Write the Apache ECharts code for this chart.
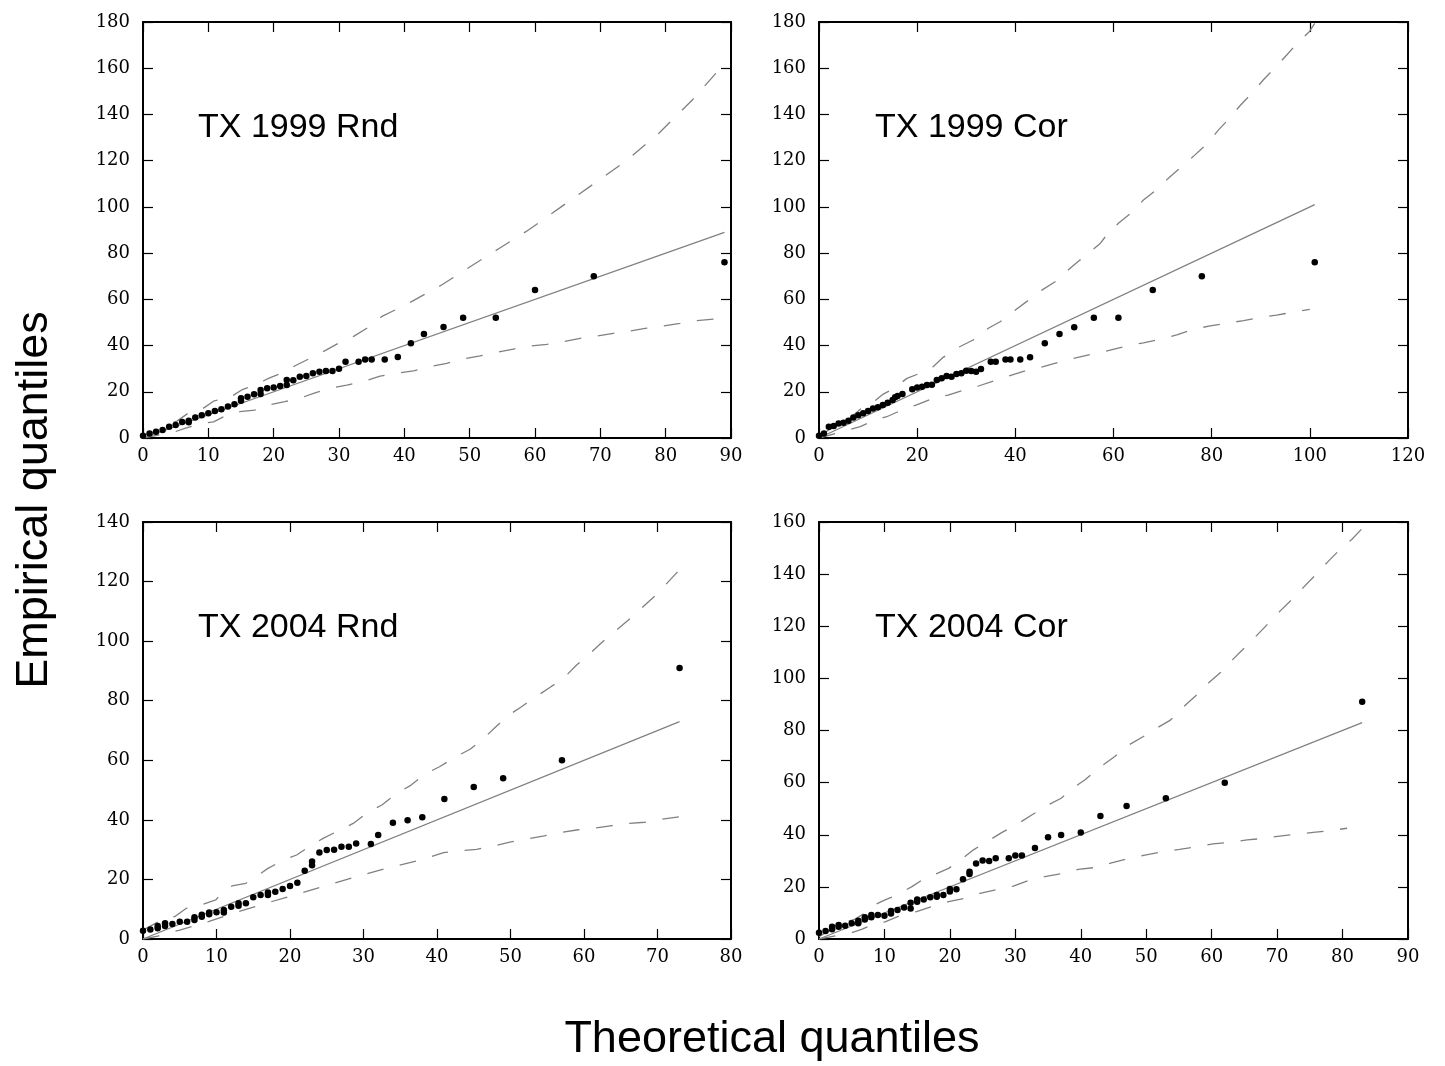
<!DOCTYPE html>
<html>
<head>
<meta charset="utf-8">
<script src="https://cdn.jsdelivr.net/npm/echarts@6/dist/echarts.min.js"></script>
<style>
html,body{margin:0;padding:0;background:#fff;}
#chart{width:1445px;height:1066px;}
</style>
</head>
<body>
<div id="chart"></div>
<script>
// ---- Panel titles & axis titles ----
const panelTitles = ["TX 1999 Rnd", "TX 1999 Cor", "TX 2004 Rnd", "TX 2004 Cor"];
const xTitle = "Theoretical quantiles";
const yTitle = "Empirical quantiles";

// ---- Axis ranges ----
const xMax = [90, 120, 80, 90];
const xStep = [10, 20, 10, 10];
const yMax = [180, 180, 140, 160];
const yStep = [20, 20, 20, 20];

// ---- Panel 1: TX 1999 Rnd ----
const theo1 = [0,1,2,3,4,5,6,7,7,8,9,10,11,12,13,14,15,15,16,17,18,18,19,20,21,22,22,23,24,25,26,27,28,29,30,31,33,34,35,37,39,41,43,46,49,54,60,69,89];
const emp1  = [1,2,2.7,3.5,4.9,5.6,6.9,6.8,7.5,8.9,9.8,10.7,11.7,12.4,13.6,14.6,16.1,17.2,17.9,18.9,19,20.8,21.5,21.9,22.5,22.9,25.1,25,26.5,26.8,28,28.7,29,29,30,33,33,34,34,34,35,41,45,48,52,52,64,70,76];
const ref1 = [[0,0],[89,89]];
const upper1 = [[0,1],[2,3],[3.7,5.9],[5.2,7.3],[7.1,11.1],[9,12.4],[10.9,16.1],[13.1,17.2],[15.1,20.8],[17.1,22.9],[19.2,25.8],[21.2,28],[23.5,31.6],[25.6,34.5],[28,38],[29.9,41],[32.3,44.1],[34.5,47.9],[36.5,52.5],[38.8,55.7],[41.1,59],[43.4,62.6],[45.7,66.2],[50,74],[54.5,82],[59,90],[64,100],[69,110],[74,120],[79,132],[84,146],[89,162]];
const lower1 = [[0,0],[4.9,2.7],[6.4,4.2],[9.2,6.3],[10.8,7],[12.9,10],[14.8,11.4],[17.1,12.1],[19.2,14.3],[21.7,15.7],[24,17.2],[26.1,19.3],[28.6,21.5],[31.2,22.9],[33.7,24.4],[36.3,26.8],[38.8,28],[41.4,29],[43.9,30.9],[46.5,32.3],[49,34.2],[51.6,35.5],[54.1,37.1],[56.7,38.5],[59.2,39.8],[61.8,40.5],[64.3,41.7],[66.9,43.1],[69.4,44.1],[72,45.3],[74.5,46.3],[77.1,47.5],[79.6,48.5],[82.2,49.6],[84.7,50.8],[89,51.8]];

// ---- Panel 2: TX 1999 Cor ----
const theo2 = [0,1,2,3,4,5,6,7,8,9,10,11,12,13,14,15,15.5,16,17,19,20,21,22,23,24,25,26,27,28,29,30,31,32,33,35,36,38,39,41,43,46,49,52,56,61,68,78,101];
const emp2  = [1,2,4.9,5.2,6.3,6.6,7.5,8.9,9.8,10.7,11.7,12.8,13.3,14.3,15.3,16.4,17.6,18.2,19,21.1,21.9,22.2,22.9,23,25.1,25.8,26.8,26.5,27.7,28,29.1,29,28.7,29.9,33,33,34,34,34,34.9,41,45,47.9,52,52,64,70,76];
const ref2 = [[0,0],[101,101]];
const upper2 = [[0,1],[4.5,6.5],[6,8],[9,13.5],[10.7,15],[13.1,19],[15.3,21.5],[17.9,25.8],[20.2,27.7],[23.3,30.9],[25.3,34.9],[28.4,39.2],[31.4,42.4],[34.5,47.5],[36.9,50.3],[40,55.4],[42.3,59],[45.4,64],[48.1,67.6],[52,75],[57.3,84.2],[58.6,87.8],[61,92.9],[63.7,97.5],[66.1,103],[68.7,107.3],[71.4,112.8],[73.9,117.4],[76.6,122.5],[79,127.2],[81.4,133.3],[83.6,138.3],[85.9,144.1],[88.2,149.2],[90.5,154.9],[92.9,160.2],[95.3,165.7],[97.5,171],[99.9,175.8],[101,179.4]];
const lower2 = [[0,0],[6,3.5],[8.4,4.9],[11.4,7.8],[13.8,9.2],[17.2,12.4],[19.9,14.3],[23.3,17.2],[26.3,18.6],[29.7,20.8],[32.5,22.5],[36.2,25.1],[38.6,26.8],[42.6,29.4],[45.7,30.9],[50,33.5],[56.2,36.6],[59.3,38],[62.7,39.8],[66.1,41.2],[69.5,42.7],[72.9,44.6],[76.1,47],[79.7,48.5],[82.9,49.6],[86.5,50.8],[89.7,52],[93.2,53.2],[96.6,54.4],[100,55.7]];

// ---- Panel 3: TX 2004 Rnd ----
const theo3 = [0,1,2,2,3,3,4,5,6,7,7,8,8,9,9,10,11,11,12,13,13,14,15,16,17,17,18,19,20,21,22,23,23,24,25,26,27,28,29,31,32,34,36,38,41,45,49,57,73];
const emp3  = [2.8,3.2,3.6,4.4,4.4,5.3,5.0,5.8,5.8,6.4,7.3,7.5,8.1,8.3,8.9,9.0,8.9,9.7,10.8,11.2,12,12,14,14.8,14.8,15.6,15.9,16.8,17.8,18.9,22.9,24.8,26,29,29.9,30,31,31,32.1,31.9,34.9,39,39.9,40.9,47,51,54,60,91];
const ref3 = [[0,0],[73,73]];
const upper3 = [[0,3],[3,7],[4.3,7.5],[5.9,10.3],[7.8,11.4],[9.9,13.1],[10.7,15.3],[12.1,17.8],[14,18.7],[15.7,21.5],[17,23.7],[19.1,26.5],[20.9,28.2],[23,31.6],[24.5,33.8],[26.8,36.6],[28.6,38.8],[30.7,42.7],[32.5,45],[34.5,48.9],[36.3,51.4],[38.4,55.4],[40.4,57.9],[42.4,61],[44.5,63.7],[46.2,67],[47.9,71],[49.6,74.9],[51.5,78],[53.3,81.1],[55.4,84.5],[57.2,87.5],[59,92],[60.6,95.3],[62.3,99.3],[66,107],[70,116],[73,124]];
const lower3 = [[0,0],[2,1],[5,3],[9,5.9],[12.5,8.8],[16.6,11.9],[20.5,14.7],[24.5,17.6],[28.7,20.7],[33.1,23.7],[37.6,26.4],[40.9,29],[43.1,29.6],[45.4,30.1],[47.7,31.2],[49.9,32.5],[52.2,33.6],[54.6,34.6],[56.7,35.7],[59,36.6],[61.3,37.2],[63.6,38],[65.9,38.8],[68.3,39.2],[70.6,40.2],[73,41]];

// ---- Panel 4: TX 2004 Cor ----
const theo4 = [0,1,2,2,3,3,4,5,6,6,7,7,8,8,9,10,11,11,12,13,14,14,15,15,16,17,18,18,19,20,20,21,22,23,23,24,25,26,27,29,30,31,33,35,37,40,43,47,53,62,83];
const emp4  = [2.4,3.1,3.7,4.7,4.7,5.4,5.1,6,6,7,7.5,8.3,8.3,9.2,9.2,8.9,9.8,10.7,11.1,12.1,11.7,13.9,14.3,15.2,15.2,16,16.2,16.9,16.9,18.2,19.2,19.1,22.9,24.9,25.8,29,30.1,29.9,31,31,32,32,34.9,39,39.9,40.9,47.2,51,54,60,91];
const ref4 = [[0,0],[83,83]];
const upper4 = [[0,1],[4.4,6.8],[5.4,7.5],[7,9.9],[8.1,12.7],[10.1,15],[11.9,16.9],[14.2,20.1],[15.7,22.6],[17.8,24.9],[19.8,27.1],[21.8,30.6],[23.6,34.2],[25.9,37.7],[27.9,40.8],[30.5,44.4],[32.5,47.6],[35,51.4],[37,54],[39.1,58.4],[40.6,61],[42.9,65.9],[45.2,70],[47.3,74.4],[49.5,77.6],[51.6,80.9],[53.7,84],[55.7,89.1],[57.7,93.6],[59.5,98.2],[61.4,102.4],[63.2,107.2],[65,111.7],[66.9,116.5],[68.7,121.2],[70.4,125.7],[72.3,130.4],[74.1,135.1],[75.9,139.8],[77.7,144.6],[79.5,149.2],[81.4,153.3],[83,157.5]];
const lower4 = [[0,0],[4.7,2.2],[6.5,3.7],[8.5,5.8],[10.1,6.6],[12.6,9.2],[14.9,10.5],[17.5,12.7],[19.8,14.3],[22.3,15.6],[24.6,17.5],[27.4,19.1],[29.7,20.3],[32.2,22.6],[34.5,23.9],[37.3,25.2],[39.6,26.7],[42.4,27.5],[44.7,29.2],[47.4,31],[49.8,32.2],[52.5,33.5],[55.1,34.4],[57.6,35.4],[60.2,36.5],[62.8,37.1],[65.4,38],[67.9,38.6],[70.4,39.5],[73,40.2],[75.5,40.9],[78.2,41.6],[80.7,42.5]];

const panels = [
  {theo: theo1, emp: emp1, ref: ref1, upper: upper1, lower: lower1},
  {theo: theo2, emp: emp2, ref: ref2, upper: upper2, lower: lower2},
  {theo: theo3, emp: emp3, ref: ref3, upper: upper3, lower: lower3},
  {theo: theo4, emp: emp4, ref: ref4, upper: upper4, lower: lower4}
];

// layout (pixels)
const gridBoxes = [
  {left: 143, top: 22, width: 588, height: 416},
  {left: 819, top: 22, width: 589, height: 416},
  {left: 143, top: 522, width: 588, height: 417},
  {left: 819, top: 522, width: 589, height: 417}
];
const titlePos = [[198,128],[875,128],[198,628],[875,628]];

const GRAY = '#808080';
const labelFont = {fontFamily: 'DejaVu Serif', fontSize: 18, color: '#000'};
const frameLine = {show: true, onZero: false, lineStyle: {color: '#000', width: 2}};
const tickStyle = {show: true, inside: true, length: 10, lineStyle: {color: '#000', width: 1.2}};

const grid = [], xAxis = [], yAxis = [], series = [], graphic = [];

panels.forEach((p, i) => {
  grid.push(Object.assign({containLabel: false}, gridBoxes[i]));
  const xb = xAxis.length;
  xAxis.push({type: 'value', gridIndex: i, position: 'bottom', min: 0, max: xMax[i], interval: xStep[i],
    axisLine: frameLine, axisTick: tickStyle, splitLine: {show: false},
    axisLabel: Object.assign({margin: 9, showMinLabel: true, showMaxLabel: true}, labelFont)});
  xAxis.push({type: 'value', gridIndex: i, position: 'top', min: 0, max: xMax[i], interval: xStep[i],
    axisLine: frameLine, axisTick: tickStyle, splitLine: {show: false}, axisLabel: {show: false}});
  const yb = yAxis.length;
  yAxis.push({type: 'value', gridIndex: i, position: 'left', min: 0, max: yMax[i], interval: yStep[i],
    axisLine: frameLine, axisTick: tickStyle, splitLine: {show: false},
    axisLabel: Object.assign({margin: 13, showMinLabel: true, showMaxLabel: true}, labelFont)});
  yAxis.push({type: 'value', gridIndex: i, position: 'right', min: 0, max: yMax[i], interval: yStep[i],
    axisLine: frameLine, axisTick: tickStyle, splitLine: {show: false}, axisLabel: {show: false}});

  series.push({type: 'line', xAxisIndex: xb, yAxisIndex: yb, data: p.ref, symbol: 'none', silent: true,
    lineStyle: {color: GRAY, width: 1.3}, z: 2});
  series.push({type: 'line', xAxisIndex: xb, yAxisIndex: yb, data: p.upper, symbol: 'none', silent: true,
    lineStyle: {color: GRAY, width: 1.3, type: [16.7, 16.7]}, z: 2});
  series.push({type: 'line', xAxisIndex: xb, yAxisIndex: yb, data: p.lower, symbol: 'none', silent: true,
    lineStyle: {color: GRAY, width: 1.3, type: [16.7, 16.7]}, z: 2});
  series.push({type: 'scatter', xAxisIndex: xb, yAxisIndex: yb,
    data: p.theo.map((x, k) => [x, p.emp[k]]),
    symbol: 'circle', symbolSize: 6.5, itemStyle: {color: '#000', opacity: 1}, z: 3});

  graphic.push({type: 'text', left: titlePos[i][0], top: titlePos[i][1] - 17,
    style: {text: panelTitles[i], fontFamily: 'Liberation Sans', fontSize: 34, fill: '#000'}});
});

graphic.push({type: 'text', x: 772, y: 1040,
  style: {text: xTitle, fontFamily: 'Liberation Sans', fontSize: 45, fill: '#000', align: 'center', verticalAlign: 'middle'}});
graphic.push({type: 'text', x: 35, y: 500, rotation: Math.PI / 2,
  style: {text: yTitle, fontFamily: 'Liberation Sans', fontSize: 45, fill: '#000', align: 'center', verticalAlign: 'middle'}});

const chart = echarts.init(document.getElementById('chart'), null, {renderer: 'canvas'});
chart.setOption({
  animation: false,
  backgroundColor: '#fff',
  grid, xAxis, yAxis, series, graphic
});
</script>
</body>
</html>
